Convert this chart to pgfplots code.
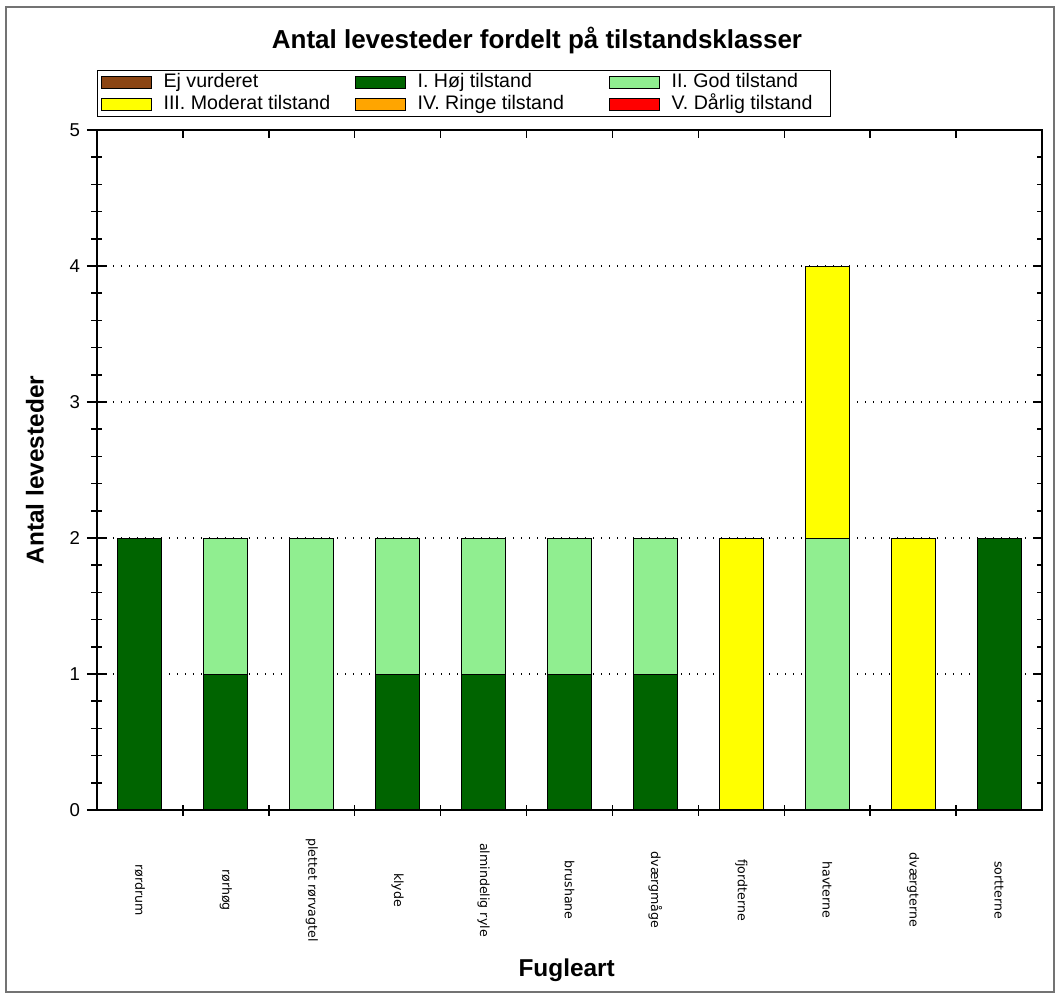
\documentclass[border=0pt]{standalone}
\usepackage{pgfplots}
\pgfplotsset{compat=1.18}
\usepackage{fontspec}
\setmainfont{Liberation Sans}
\newfontfamily\labfont{DejaVu Sans}
\definecolor{ejv}{RGB}{139,69,19}
\definecolor{hoj}{RGB}{0,100,0}
\definecolor{god}{RGB}{144,238,144}
\definecolor{mod}{RGB}{255,255,0}
\definecolor{rin}{RGB}{255,165,0}
\definecolor{dar}{RGB}{255,0,0}
\begin{document}
\begin{tikzpicture}
\useasboundingbox (-48.5pt,-94pt) rectangle (481.5pt,405pt);
\draw[black!55, line width=0.6pt] (-45.5pt,-91pt) rectangle (478.5pt,401.5pt);
\begin{axis}[
  scale only axis, width=472.5pt, height=340pt,
  ybar stacked, bar width=22pt,
  xmin=-0.5, xmax=10.5, ymin=0, ymax=5,
  xtick={0,...,10},
  xticklabels={rørdrum,rørhøg,plettet rørvagtel,klyde,almindelig ryle,brushane,dværgmåge,fjordterne,havterne,dværgterne,sortterne},
  major x tick style={draw=none},
  minor xtick={0.5,1.5,...,9.5},
  ytick={0,...,5}, minor y tick num=4,
  xtick pos=left, ytick pos=left,
  tick align=center,
  major tick length=10pt, minor tick length=5.5pt,
  tick style={black, line width=0.75pt},
  axis line style={line width=0.75pt},
  ymajorgrids,
  grid style={black, line width=0.6pt, dash pattern=on 0.7pt off 3.3pt},
  /pgf/number format/assume math mode=true,
  yticklabel style={font=\fontsize{9.3}{10}\selectfont},
  xticklabel style={font=\labfont\fontsize{6.3}{7}\selectfont, yshift=-35pt, rotate=-90, anchor=center},
  title={Antal levesteder fordelt på tilstandsklasser},
  title style={at={(axis description cs:0.4656,1.114)}, anchor=center, yshift=0pt, font=\bfseries\fontsize{13}{15}\selectfont},
  xlabel={Fugleart},
  xlabel style={at={(axis description cs:0.497,-0.235)}, anchor=center, font=\bfseries\fontsize{12.2}{14}\selectfont},
  ylabel={Antal levesteder},
  ylabel style={at={(axis description cs:-0.0656,0.5)}, anchor=center, font=\bfseries\fontsize{12.2}{14}\selectfont},
  legend columns=3,
  legend image code/.code={\draw[#1,draw=black,line width=0.5pt] (0pt,-3pt) rectangle (25pt,3pt);},
  legend style={at={(axis description cs:0,1)}, anchor=south west, yshift=6.5pt,
    draw=black, line width=0.6pt, inner xsep=1.5pt, inner ysep=0.3pt,
    font=\fontsize{9.8}{11}\selectfont,
    nodes={inner xsep=3pt, inner ysep=1.1pt, text height=7pt, text depth=2pt},
    /tikz/every odd column/.append style={column sep=3pt},
    /tikz/every even column/.append style={column sep=0pt}},
]
\addplot[fill=ejv, draw=black, line width=0.5pt] coordinates {(0,0) (1,0) (2,0) (3,0) (4,0) (5,0) (6,0) (7,0) (8,0) (9,0) (10,0)};
\addlegendentry{\makebox[92.5pt][l]{Ej vurderet}}
\addplot[fill=hoj, draw=black, line width=0.5pt] coordinates {(0,2) (1,1) (2,0) (3,1) (4,1) (5,1) (6,1) (7,0) (8,0) (9,0) (10,2)};
\addlegendentry{\makebox[92.5pt][l]{I. Høj tilstand}}
\addplot[fill=god, draw=black, line width=0.5pt] coordinates {(0,0) (1,1) (2,2) (3,1) (4,1) (5,1) (6,1) (7,0) (8,2) (9,0) (10,0)};
\addlegendentry{\makebox[75pt][l]{II. God tilstand}}
\addplot[fill=mod, draw=black, line width=0.5pt] coordinates {(0,0) (1,0) (2,0) (3,0) (4,0) (5,0) (6,0) (7,2) (8,2) (9,2) (10,0)};
\addlegendentry{\makebox[92.5pt][l]{III. Moderat tilstand}}
\addplot[fill=rin, draw=black, line width=0.5pt] coordinates {(0,0) (1,0) (2,0) (3,0) (4,0) (5,0) (6,0) (7,0) (8,0) (9,0) (10,0)};
\addlegendentry{\makebox[92.5pt][l]{IV. Ringe tilstand}}
\addplot[fill=dar, draw=black, line width=0.5pt] coordinates {(0,0) (1,0) (2,0) (3,0) (4,0) (5,0) (6,0) (7,0) (8,0) (9,0) (10,0)};
\addlegendentry{\makebox[75pt][l]{V. Dårlig tilstand}}
\end{axis}
\begin{axis}[
  scale only axis, width=472.5pt, height=340pt,
  xmin=-0.5, xmax=10.5, ymin=0, ymax=5,
  xtick={0.5,1.5,...,9.5}, xticklabels={},
  ytick={0,...,5}, yticklabels={}, minor y tick num=4,
  xtick pos=right, ytick pos=right,
  tick align=inside,
  major tick length=4pt, minor tick length=2.5pt,
  tick style={black, line width=0.75pt},
  axis line style={line width=0.75pt},
]
\end{axis}
\end{tikzpicture}
\end{document}
